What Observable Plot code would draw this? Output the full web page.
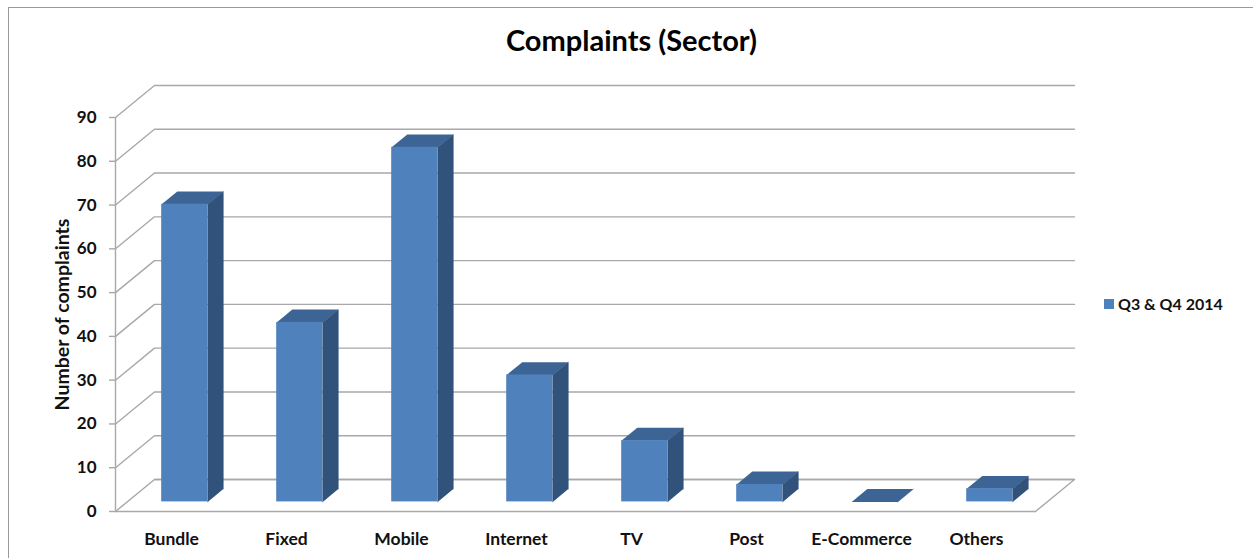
<!DOCTYPE html>
<html>
<head>
<meta charset="utf-8">
<script src="https://cdn.jsdelivr.net/npm/d3@7"></script>
<script src="https://cdn.jsdelivr.net/npm/@observablehq/plot@0.6"></script>
<style>
  html, body { margin: 0; padding: 0; background: #fff; overflow: hidden; }
  #page { position: relative; width: 1253px; height: 558px; overflow: hidden; font-family: Lato, sans-serif; color: #000; }
  #frame { position: absolute; left: 8px; top: 7px; width: 1400px; height: 700px; border: 1px solid #9a9a9a; box-sizing: border-box; }
  #title { position: absolute; left: 0; top: 21px; width: 1263px; text-align: center; font-size: 29px; font-weight: 700; line-height: 38px; }
  #legend { position: absolute; left: 1104px; top: 294px; display: flex; align-items: center; font-size: 16px; font-weight: 700; line-height: 20px; color: #111; }
  #legend i { display: block; width: 10px; height: 10px; margin-right: 4px; }
  #chart { position: absolute; left: 0; top: 0; }
  #chart svg { display: block; }
</style>
</head>
<body>
<div id="page">
  <div id="frame"></div>
  <div id="chart"></div>
  <div id="title">Complaints (Sector)</div>
  <div id="legend"><i></i><span>Q3 &amp; Q4 2014</span></div>
</div>
<script>
const categories = ["Bundle", "Fixed", "Mobile", "Internet", "TV", "Post", "E-Commerce", "Others"];
const complaints = [68, 41, 81, 29, 14, 4, 0, 3];
const yTicks = [0, 10, 20, 30, 40, 50, 60, 70, 80, 90];
const seriesName = "Q3 & Q4 2014";
const yTitle = "Number of complaints";

const colors = { front: "#4f81bd", side: "#31527b", top: "#3c6494", grid: "#a8a8a8" };

// Oblique projection: a point at depth d (0 = front, 1 = back wall) is shifted
// right and up, expressed in the units of the x and y scales.
const shiftX = 0.339;
const shiftY = 7.31;
const project = (x, v, d) => ({ x: x + shiftX * d, y: v + shiftY * d });

// Each bar occupies the middle 40% of its slot, in width and in depth.
const barInset = 0.3;
const near = barInset;
const far = 1 - barInset;

const barFaces = (face) =>
  complaints.flatMap((v, i) => {
    const l = i + barInset, r = i + 1 - barInset;
    const corners = {
      side: [[r, 0, near], [r, v, near], [r, v, far], [r, 0, far]],
      top: [[l, v, near], [r, v, near], [r, v, far], [l, v, far]]
    }[face];
    return corners.map(([x, y, d]) => ({ id: categories[i], ...project(x, y, d) }));
  });

const fronts = complaints.map((v, i) => ({
  x1: project(i + barInset, 0, near).x,
  x2: project(i + 1 - barInset, 0, near).x,
  y1: project(0, 0, near).y,
  y2: project(0, v, near).y
}));

const slots = categories.length;

// Gridlines run from the front axis to the back wall, then along the wall.
const wallLines = yTicks.flatMap((t) =>
  [[0, 0], [0, 1], [slots, 1]].map(([x, d]) => ({ id: t, ...project(x, t, d) }))
);
const floorEdge = [[0, 1], [slots, 1], [slots, 0]].map(([x, d]) => project(x, 0, d));
const frontEdge = [[0, 0], [slots, 0]].map(([x, d]) => project(x, 0, d));
const axisEdge = [0, 90].map((v) => project(0, v, 0));

const lineStyle = { stroke: colors.grid, strokeWidth: 1.4 };

const chart = Plot.plot({
  width: 1253,
  height: 558,
  marginLeft: 115,
  marginRight: 218,
  marginTop: 117,
  marginBottom: 47,
  style: { fontFamily: "Lato, sans-serif", fontWeight: 700, background: "transparent", overflow: "visible" },
  x: { domain: [0, slots] },
  y: { domain: [0, 90] },
  marks: [
    Plot.line(wallLines, { x: "x", y: "y", z: "id", ...lineStyle }),
    Plot.line(floorEdge, { x: "x", y: "y", ...lineStyle }),
    Plot.line(frontEdge, { x: "x", y: "y", ...lineStyle }),
    Plot.line(axisEdge, { x: "x", y: "y", ...lineStyle }),
    Plot.axisY({
      ticks: yTicks,
      tickSize: 6,
      tickPadding: 13,
      fontSize: 17,
      stroke: colors.grid,
      fill: "#111",
      strokeWidth: 1.4,
      label: null
    }),
    Plot.text([yTitle], {
      frameAnchor: "left",
      textAnchor: "middle",
      rotate: -90,
      dx: -53,
      fontSize: 19.5,
      fill: "#111"
    }),
    Plot.axisX({
      ticks: categories.map((_, i) => i + 0.5),
      tickFormat: (t) => categories[t - 0.5],
      tickSize: 0,
      tickPadding: 21,
      fontSize: 17.5,
      dx: -1.5,
      fill: "#111",
      label: null
    }),
    Plot.line(barFaces("top"), { x: "x", y: "y", z: "id", fill: colors.top, stroke: "none" }),
    Plot.line(barFaces("side"), { x: "x", y: "y", z: "id", fill: colors.side, stroke: colors.side, strokeWidth: 0.5 }),
    Plot.rect(fronts, { x1: "x1", x2: "x2", y1: "y1", y2: "y2", fill: colors.front })
  ]
});
document.getElementById("chart").append(chart);
document.querySelector("#legend i").style.background = colors.front;
document.querySelector("#legend span").textContent = seriesName;
</script>
</body>
</html>
